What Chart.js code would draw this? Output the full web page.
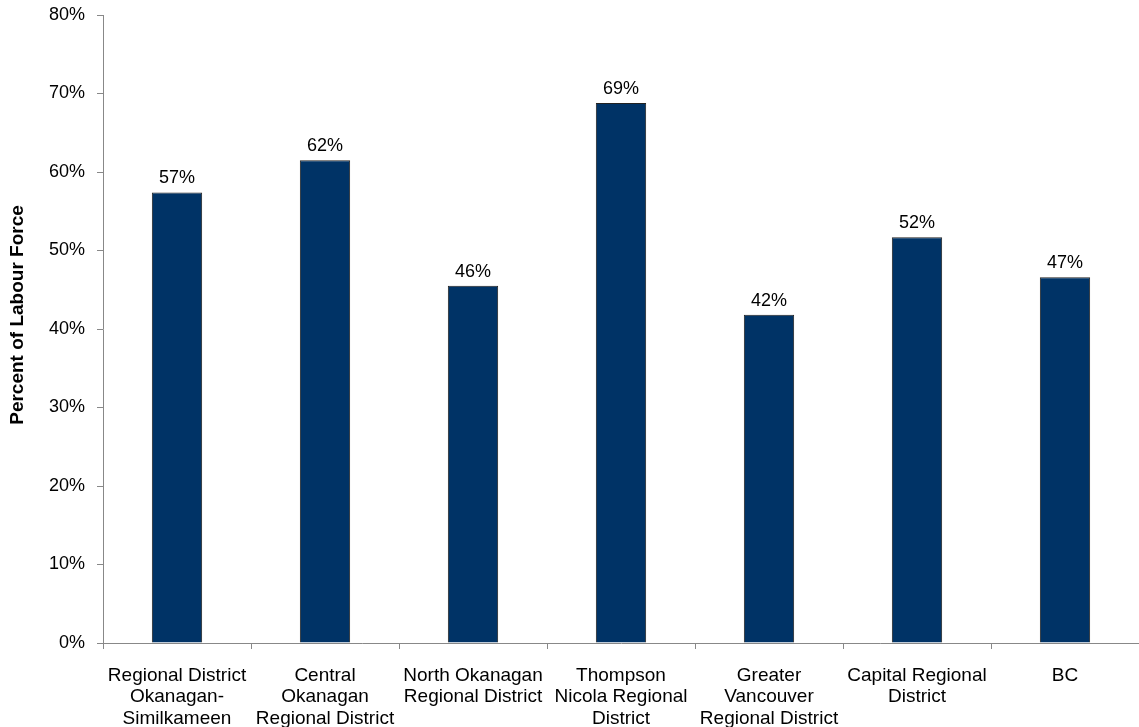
<!DOCTYPE html>
<html>
<head>
<meta charset="utf-8">
<script src="https://cdn.jsdelivr.net/npm/chart.js@4"></script>
<style>
  body { margin: 0; background: #fff; }
  #wrap { width: 1139px; height: 727px; }
</style>
</head>
<body>
<div id="wrap"><canvas id="myChart"></canvas></div>
<script>
const regions = [
    ["Regional District", "Okanagan-", "Similkameen"],
    ["Central", "Okanagan", "Regional District"],
    ["North Okanagan", "Regional District"],
    ["Thompson", "Nicola Regional", "District"],
    ["Greater", "Vancouver", "Regional District"],
    ["Capital Regional", "District"],
    ["BC"]
];
const labourPct = [57.4, 61.5, 45.5, 68.8, 41.8, 51.7, 46.6];
const pctLabels = ["57%", "62%", "46%", "69%", "42%", "52%", "47%"];
const yTitle = "Percent of Labour Force";

const FONT = "'Liberation Sans', Arial, sans-serif";

// draws the % text above each bar and the rotated y title
const barLabels = {
    id: "barLabels",
    afterDatasetsDraw(chart) {
        const ctx = chart.ctx;
        const meta = chart.getDatasetMeta(0);
        ctx.save();
        ctx.font = "18px " + FONT;
        ctx.fillStyle = "#000";
        ctx.textAlign = "center";
        ctx.textBaseline = "bottom";
        meta.data.forEach(function(bar, i) {
            ctx.fillText(pctLabels[i], bar.x, bar.y - 5);
        });
        ctx.restore();

        ctx.save();
        ctx.translate(18, 315);
        ctx.rotate(-Math.PI / 2);
        ctx.font = "bold 19px " + FONT;
        ctx.fillStyle = "#000";
        ctx.textAlign = "center";
        ctx.textBaseline = "middle";
        ctx.fillText(yTitle, 0, 0);
        ctx.restore();
    }
};

const ctx = document.getElementById("myChart").getContext("2d");
const myChart = new Chart(ctx, {
    type: "bar",
    data: {
        labels: regions,
        datasets: [{
            data: labourPct,
            backgroundColor: "rgb(0, 51, 102)",
            borderColor: "#222",
            borderWidth: 1,
            barPercentage: 0.34,
            categoryPercentage: 1,
        }],
    },
    options: {
        responsive: true,
        maintainAspectRatio: false,
        animation: false,
        layout: { padding: { top: 15, right: 0, left: 0, bottom: 0 } },
        plugins: {
            legend: { display: false },
            tooltip: { enabled: false },
        },
        scales: {
            x: {
                grid: { display: true, drawOnChartArea: false, drawTicks: true, tickLength: 6, color: "#888" },
                border: { color: "#888", width: 1 },
                ticks: {
                    color: "#000",
                    font: { family: FONT, size: 19, lineHeight: 1.13 },
                    padding: 16,
                    maxRotation: 0,
                    autoSkip: false,
                },
                afterFit(scale) {
                    scale.height = 84;
                    scale.paddingLeft = 0;
                    scale.paddingRight = 0;
                },
            },
            y: {
                min: 0,
                max: 80,
                grid: { display: true, drawOnChartArea: false, drawTicks: true, tickLength: 6, color: "#888" },
                border: { color: "#888", width: 1 },
                ticks: {
                    stepSize: 10,
                    color: "#000",
                    font: { family: FONT, size: 18 },
                    padding: 12,
                    callback: function(v) { return v + "%"; },
                },
                afterFit(scale) {
                    scale.width = 103;
                    scale.paddingTop = 0;
                    scale.paddingBottom = 0;
                },
            },
        },
    },
    plugins: [barLabels],
});
</script>
</body>
</html>
